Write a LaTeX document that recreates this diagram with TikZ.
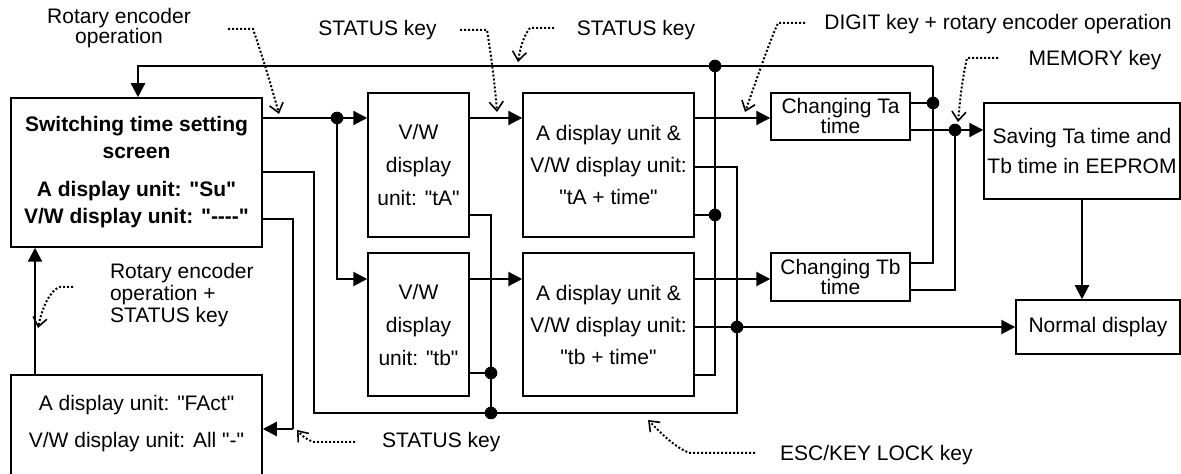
\documentclass[tikz,border=0pt]{standalone}
\usepackage{fontspec}
\setmainfont{Liberation Sans}[Ligatures=TeXOff]
\usetikzlibrary{arrows.meta}
\begin{document}
\begin{tikzpicture}[x=0.5pt,y=-0.5pt,
  every node/.style={font=\fontsize{10.5}{12.6}\selectfont},
  box/.style={draw,line width=0.75pt,inner sep=0pt,align=center},
  thinln/.style={line width=0.8pt},
  thickln/.style={line width=1.1pt},
  arr/.style={-{Triangle[length=7pt,width=7pt]}},
  jdot/.style={circle,fill,inner sep=0pt,minimum size=6.3pt},
  note/.style={line width=1pt,dash pattern=on 1pt off 1pt,-{Straight Barb[length=4.5pt,width=7pt,line width=0.8pt]}},
  notetext/.style={font=\fontsize{10.5}{10}\selectfont},
]
\useasboundingbox (0,0) rectangle (1181,474);
\clip (0,0) rectangle (1181,474);

% boxes
\node[box,font=\bfseries\fontsize{10.5}{13.5}\selectfont,minimum width=125.5pt,minimum height=74.5pt] (sw) at (136.5,172.5)
  {Switching time setting\\screen\\[5.5pt]A display unit: "Su"\\V/W display unit: "----"};
\node[box,minimum width=125.5pt,minimum height=57pt] (fa) at (136.5,432) {};
\node[align=center,font=\fontsize{10.5}{18.5}\selectfont] (fatext) at (136.5,423.5) {A display unit: "FAct"\\V/W display unit: All "-"};
\node[box,font=\fontsize{10.5}{16.5}\selectfont,minimum width=50.5pt,minimum height=72pt] (ta) at (418.5,165) {V/W\\display\\unit: "tA"};
\node[box,font=\fontsize{10.5}{16.5}\selectfont,minimum width=50.5pt,minimum height=71.5pt] (tb) at (418.5,324.5) {V/W\\display\\unit: "tb"};
\node[box,font=\fontsize{10.5}{16}\selectfont,minimum width=85.5pt,minimum height=72pt] (a2) at (608.5,165) {A display unit \&\\V/W display unit:\\"tA + time"};
\node[box,font=\fontsize{10.5}{16}\selectfont,minimum width=85.5pt,minimum height=71.5pt] (a5) at (608.5,324.5) {A display unit \&\\V/W display unit:\\"tb + time"};
\node[box,font=\fontsize{10.5}{10}\selectfont,minimum width=69.5pt,minimum height=23.5pt] (ca) at (840.5,116.5) {Changing Ta\\time};
\node[box,font=\fontsize{10.5}{10}\selectfont,minimum width=69.5pt,minimum height=24pt] (cb) at (840.5,277) {Changing Tb\\time};
\node[box,font=\fontsize{10.5}{15}\selectfont,minimum width=98pt,minimum height=48pt] (sv) at (1082,151) {Saving Ta time and\\Tb time in EEPROM};
\node[box,minimum width=82pt,minimum height=27pt] (nd) at (1098,327) {Normal display};

% coordinates
\coordinate (r1) at (0,118);
\coordinate (r2) at (0,279);
\coordinate (j1) at (337,118);
\coordinate (jsv) at (955,130);
\coordinate (jnd) at (737,327);
\coordinate (x35) at (35,0);
\coordinate (x138) at (138,0);
\coordinate (t1) at (933,66);
\coordinate (jca) at (933,103);
\coordinate (jtop) at (715,66);
\coordinate (j715) at (715,215);
\coordinate (b715) at (715,375);
\coordinate (esc1) at (314,413);
\coordinate (esc2) at (737,413);
\coordinate (esc3) at (737,167);
\coordinate (jesc) at (491,413);
\coordinate (jtb) at (491,373);
\coordinate (k1) at (293,429);

% thick arrows
\draw[thickln,arr] (sw.east|-r1) -- (ta.west|-r1);
\draw[thickln,arr] (j1) |- (tb.west|-r2);
\draw[thickln,arr] (ta.east|-r1) -- (a2.west|-r1);
\draw[thickln,arr] (tb.east|-r2) -- (a5.west|-r2);
\draw[thickln,arr] (a2.east|-r1) -- (ca.west|-r1);
\draw[thickln,arr] (a5.east|-r2) -- (cb.west|-r2);
\draw[thickln,arr] (ca.east|-jsv) -- (sv.west|-jsv);
\draw[thickln,arr] (sv.south) -- (sv.south|-nd.north);
\draw[thickln,arr] (a5.east|-jnd) -- (nd.west|-jnd);
\draw[thickln,arr] (fa.north-|x35) -- (sw.south-|x35);
\draw[thinln] (cb.east|-0,263) -| (t1);
\draw[thickln,arr] (t1) -| (sw.north-|x138);
\draw[thinln] (ca.east|-jca) -- (jca);
\draw[thinln] (cb.east|-0,290) -| (jsv);
\draw[thinln] (a2.east|-j715) -- (j715);
\draw[thinln] (jtop) -- (b715) -- (a5.east|-b715);
\draw[thinln] (sw.east|-0,172) -| (esc1) -- (esc2) -- (esc3) -- (a2.east|-esc3);
\draw[thinln] (ta.east|-0,215) -| (jesc);
\draw[thinln] (tb.east|-jtb) -- (jtb);
\draw[thinln] (sw.east|-0,219) -| (k1);
\draw[thickln,arr] (k1) -- (fa.east|-k1);

% junction dots
\foreach \p in {j1,jsv,jnd,jca,jtop,j715,jesc,jtb}
  \node[jdot] at (\p) {};

% annotations
\node[notetext,align=center] (n1) at (119,28) {Rotary encoder\\operation};
\draw[note] (228,29) -- (253,29) .. controls (261,52) and (272,88) .. (279,114);
\node[notetext] (n2) at (377.5,30) {STATUS key};
\draw[note] (460,30) -- (487,30) .. controls (491,55) and (495,85) .. (497,112);
\node[notetext] (n3) at (636,30) {STATUS key};
\draw[note] (554,28) -- (530,28) .. controls (524,35) and (520,48) .. (518,62);
\node[notetext] (n4) at (998,24) {DIGIT key + rotary encoder operation};
\draw[note] (805,23) -- (778,23) .. controls (768,45) and (753,90) .. (745,112);
\node[notetext] (n5) at (1095,60) {MEMORY key};
\draw[note] (998,58) -- (967,58) .. controls (962,80) and (960,100) .. (958,122);
\node[font=\fontsize{10.5}{11}\selectfont,align=left,anchor=west] (n6) at (103,295) {Rotary encoder\\operation +\\STATUS key};
\draw[note] (73,287) -- (60,287) .. controls (50,290) and (42,308) .. (38,328);
\node[notetext,anchor=west] (n7) at (375,442) {STATUS key};
\draw[note] (355,442) -- (314,442) .. controls (307,440) and (302,436) .. (297,430);
\node[notetext,anchor=west] (n8) at (773,455) {ESC/KEY LOCK key};
\draw[note] (755,453) -- (690,453) .. controls (675,448) and (660,432) .. (648,420);
\end{tikzpicture}
\end{document}
